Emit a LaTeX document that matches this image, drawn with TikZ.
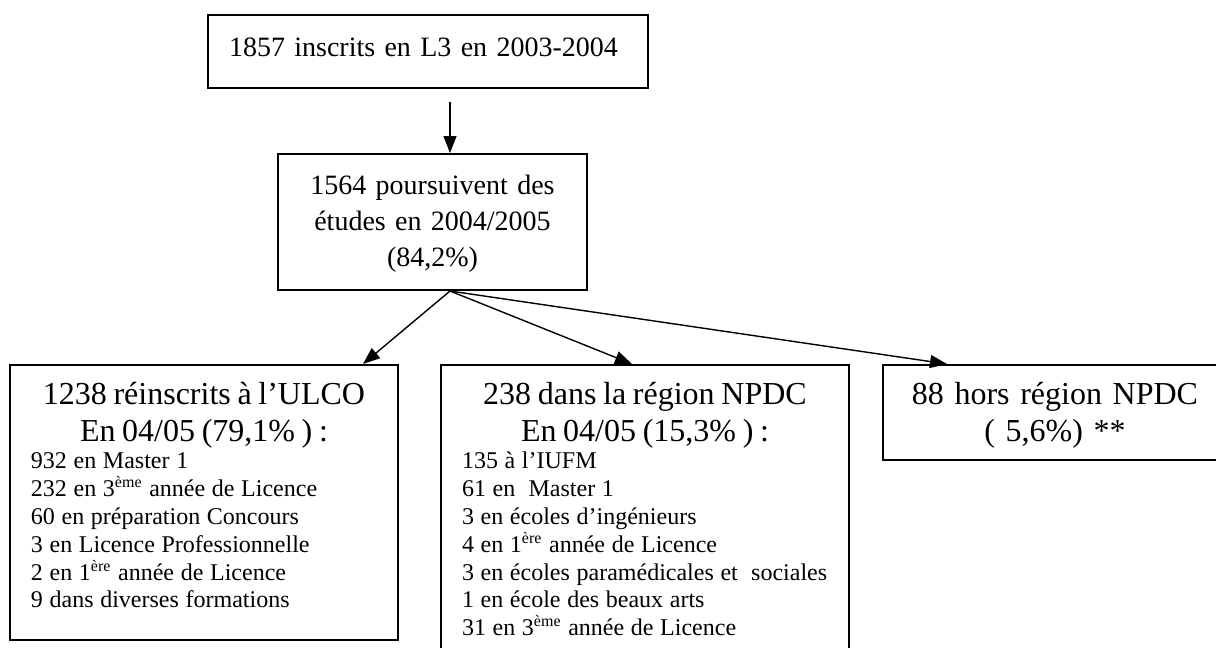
\documentclass[tikz,border=0pt]{standalone}
\usepackage{fontspec}
\setmainfont{Liberation Serif}
\usetikzlibrary{arrows.meta}
\setlength{\parindent}{0pt}
\setlength{\parskip}{0pt}
\lineskiplimit=-\maxdimen
\newcommand{\headsize}{\fontsize{16}{18.5}\selectfont}
\newcommand{\topsize}{\fontsize{14}{18}\selectfont}
\newcommand{\listsize}{\fontsize{12}{13.9}\selectfont}

\begin{document}
\begin{tikzpicture}[x=0.5pt,y=-0.5pt,
  box/.style={draw,line width=1pt,rectangle,inner ysep=0pt,anchor=north west},
  flow/.style={line width=0.7pt,-{Triangle[length=8.5pt,width=6.5pt]}}]
  \useasboundingbox (0,0) rectangle (1216,648);
  \node[box,inner xsep=10.5pt,text width=199pt,text height=20.5pt,text depth=16pt,font=\topsize,align=left] (l3) at (207,14)
    {1857 inscrits en L3 en 2003-2004};
  \node[box,inner xsep=0pt,text width=154.5pt,text height=20pt,text depth=48pt,font=\topsize,align=center] (suite) at (277,153)
    {1564 poursuivent des\\ études en 2004/2005\\ (84,2\%)};
  \node[box,inner xsep=10.5pt,text width=173pt,text height=19.5pt,text depth=118pt] (ulco) at (9,364)
    {\headsize\centering 1238 réinscrits à l’ULCO\\ En 04/05 (79,1\% ) :\par
     \listsize\raggedright 932 en Master 1\\
     232 en 3\textsuperscript{ème} année de Licence\\
     60 en préparation Concours\\
     3 en Licence Professionnelle\\
     2 en 1\textsuperscript{ère} année de Licence\\
     9 dans diverses formations\par};
  \node[box,inner xsep=10.5pt,text width=183pt,text height=19.5pt,text depth=124.5pt] (npdc) at (440,364)
    {\headsize\centering 238 dans la région NPDC\\ En 04/05 (15,3\% ) :\par
     \listsize\raggedright 135 à l’IUFM\\
     61 en \ Master 1\\
     3 en écoles d’ingénieurs\\
     4 en 1\textsuperscript{ère} année de Licence\\
     3 en écoles paramédicales et \ sociales\\
     1 en école des beaux arts\\
     31 en 3\textsuperscript{ème} année de Licence\par};
  \node[box,inner xsep=0pt,text width=172pt,text height=19.5pt,text depth=28pt,font=\headsize,align=center] (hors) at (882,364)
    {88 hors région NPDC\\ ( 5,6\%) **};
  \coordinate (fork) at (450,289);
  \coordinate (toulco) at (363,364);
  \coordinate (tonpdc) at (632,364);
  \coordinate (tohors) at (947,364);
  \path[flow]
    (l3.south -| fork) edge [shorten <=6.5pt] (suite.north -| fork)
    (suite.south -| fork) edge (toulco)
    (suite.south -| fork) edge (tonpdc)
    (suite.south -| fork) edge (tohors);
\end{tikzpicture}
\end{document}
